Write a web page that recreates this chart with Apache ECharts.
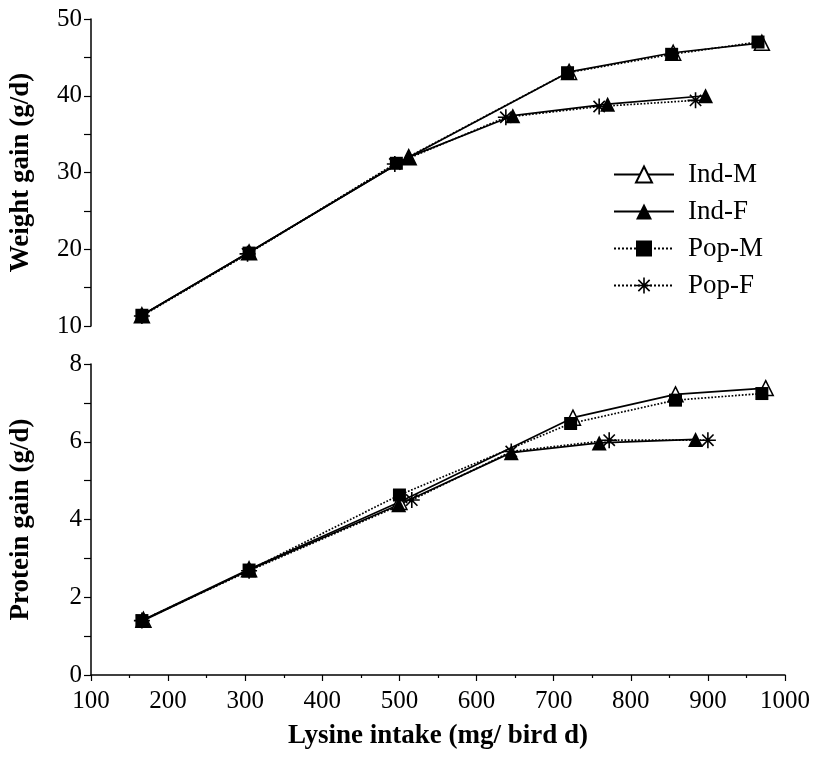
<!DOCTYPE html>
<html>
<head>
<meta charset="utf-8">
<script src="https://cdn.jsdelivr.net/npm/echarts@6/dist/echarts.min.js"></script>
<style>
  html, body { margin: 0; padding: 0; background: #fff; }
  #chart { width: 816px; height: 763px; }
</style>
</head>
<body>
<div id="chart"></div>
<script>
'use strict';

var seriesNames = ['Ind-M', 'Ind-F', 'Pop-M', 'Pop-F'];

// weight gain (g/d), [lysine intake, value]
var weightIndM = [[166, 11.4], [305, 19.6], [512, 32.0], [720, 43.1], [855, 45.6], [970, 46.9]];
var weightIndF = [[166, 11.4], [305, 19.6], [512, 32.0], [647, 37.4], [770, 38.9], [897, 40.0]];
var weightPopM = [[166, 11.4], [305, 19.5], [496, 31.2], [718, 43.0], [853, 45.4], [965, 47.0]];
var weightPopF = [[166, 11.3], [303, 19.4], [494, 31.1], [638, 37.2], [759, 38.6], [884, 39.4]];

// protein gain (g/d)
var proteinIndM = [[168, 1.42], [305, 2.72], [500, 4.45], [725, 6.62], [858, 7.22], [975, 7.38]];
var proteinIndF = [[168, 1.40], [305, 2.70], [499, 4.38], [645, 5.72], [759, 5.97], [884, 6.06]];
var proteinPopM = [[166, 1.40], [305, 2.70], [500, 4.63], [722, 6.47], [858, 7.07], [970, 7.24]];
var proteinPopF = [[166, 1.40], [305, 2.68], [516, 4.50], [645, 5.75], [772, 6.04], [900, 6.04]];

var xTicks = [100, 1000, 100];
var weightTicks = [10, 50, 5];
var proteinTicks = [0, 8, 1];

var font = 'Liberation Serif';

// 8 armed asterisk, thin bars all wound the same way
var asterisk = 'path://M-10,-1L10,-1L10,1L-10,1Z' +
  'M1,-10L1,10L-1,10L-1,-10Z' +
  'M-6.36,-7.78L7.78,6.36L6.36,7.78L-7.78,-6.36Z' +
  'M-7.78,6.36L6.36,-7.78L7.78,-6.36L-6.36,7.78Z';

var styles = {
  'Ind-M': {symbol: 'triangle', size: 15, fill: '#fff', line: 'solid'},
  'Ind-F': {symbol: 'triangle', size: 15, fill: '#000', line: 'solid'},
  'Pop-M': {symbol: 'rect', size: 13, fill: '#000', line: 'dotted'},
  'Pop-F': {symbol: asterisk, size: 16, fill: '#000', line: 'dotted'}
};

function makeSeries(name, data, idx) {
  var s = styles[name];
  return {
    name: name,
    type: 'line',
    xAxisIndex: idx,
    yAxisIndex: idx,
    data: data,
    symbol: s.symbol,
    symbolSize: s.size,
    symbolKeepAspect: true,
    showAllSymbol: true,
    animation: false,
    lineStyle: {color: '#000', width: 1.7, type: s.line},
    itemStyle: {color: s.fill, borderColor: '#000', borderWidth: s.fill === '#fff' ? 1.5 : 0}
  };
}

function yAxis(idx, ticks, name, labelEvery) {
  return {
    type: 'value', gridIndex: idx,
    min: ticks[0], max: ticks[1], interval: ticks[2],
    name: name, nameLocation: 'middle', nameGap: 56,
    nameTextStyle: {fontFamily: font, fontWeight: 'bold', fontSize: 27, color: '#000'},
    axisLine: {show: true, lineStyle: {color: '#000', width: 1.5}},
    axisTick: {show: true, inside: false, length: 7, lineStyle: {color: '#000', width: 1.2}},
    axisLabel: {
      fontFamily: font, fontSize: 25, color: '#000', margin: 9,
      formatter: function (v) { return v % labelEvery === 0 ? String(v) : ''; }
    },
    splitLine: {show: false}
  };
}

var option = {
  backgroundColor: '#fff',
  animation: false,
  legend: {
    data: seriesNames,
    orient: 'vertical',
    left: 613, top: 161, padding: 0,
    itemWidth: 60, itemHeight: 20, itemGap: 10,
    textStyle: {fontFamily: font, fontSize: 27, color: '#000', lineHeight: 27, padding: [0, 0, 0, 9]}
  },
  grid: [
    {left: 88, top: 19, width: 697, height: 307},
    {left: 88, top: 364, width: 697, height: 311}
  ],
  xAxis: [
    {type: 'value', gridIndex: 0, min: xTicks[0], max: xTicks[1], interval: xTicks[2], show: false},
    {
      type: 'value', gridIndex: 1, min: xTicks[0], max: xTicks[1], interval: xTicks[2],
      name: 'Lysine intake (mg/ bird d)', nameLocation: 'middle', nameGap: 48,
      nameTextStyle: {fontFamily: font, fontWeight: 'bold', fontSize: 27, color: '#000'},
      axisLine: {show: true, lineStyle: {color: '#000', width: 1.5}},
      axisTick: {show: true, inside: false, length: 6, lineStyle: {color: '#000', width: 1.2}},
      minorTick: {show: true, splitNumber: 2, length: 3, lineStyle: {color: '#000', width: 1.2}},
      axisLabel: {
        fontFamily: font, fontSize: 25, color: '#000', margin: 14,
        formatter: function (v) { return String(v); }
      },
      splitLine: {show: false}
    }
  ],
  yAxis: [
    yAxis(0, weightTicks, 'Weight gain (g/d)', 10),
    yAxis(1, proteinTicks, 'Protein gain (g/d)', 2)
  ],
  series: [
    makeSeries('Ind-M', weightIndM, 0),
    makeSeries('Ind-F', weightIndF, 0),
    makeSeries('Pop-M', weightPopM, 0),
    makeSeries('Pop-F', weightPopF, 0),
    makeSeries('Ind-M', proteinIndM, 1),
    makeSeries('Ind-F', proteinIndF, 1),
    makeSeries('Pop-M', proteinPopM, 1),
    makeSeries('Pop-F', proteinPopF, 1)
  ]
};

var chart = echarts.init(document.getElementById('chart'), null, {renderer: 'canvas'});
chart.setOption(option);
</script>
</body>
</html>
